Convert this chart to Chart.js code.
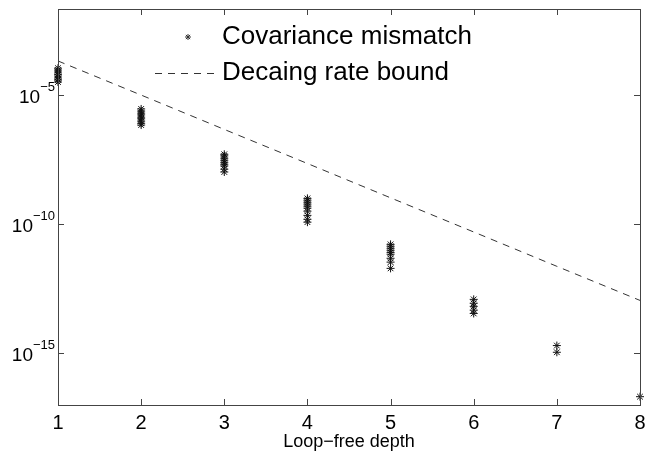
<!DOCTYPE html>
<html>
<head>
<meta charset="utf-8">
<script src="https://cdn.jsdelivr.net/npm/chart.js@4/dist/chart.umd.min.js"></script>
<style>
  html, body { margin: 0; padding: 0; background: #fff; }
  #wrap { width: 654px; height: 453px; }
</style>
</head>
<body>
<div id="wrap"><canvas id="chart" width="654" height="453"></canvas></div>
<script>
// depth on the x axis
const depthTicks = [1, 2, 3, 4, 5, 6, 7, 8];
// exponents shown on the y axis (10^e)
const yTickExponents = [-15, -10, -5];

// Covariance mismatch samples, paired: depth / value
const mismatchDepth = [
    1, 1, 1, 1, 1, 1, 1, 1, 1,
    2, 2, 2, 2, 2, 2, 2, 2, 2,
    3, 3, 3, 3, 3, 3, 3, 3, 3,
    4, 4, 4, 4, 4, 4, 4, 4, 4, 4,
    5, 5, 5, 5, 5, 5, 5, 5, 5,
    6, 6, 6, 6, 6,
    7, 7,
    8
];
const mismatchValue = [
    1.1e-4, 9.3e-5, 7.8e-5, 6.5e-5, 6.0e-5, 5.0e-5, 4.2e-5, 3.8e-5, 3.2e-5,
    2.9e-6, 2.4e-6, 2.0e-6, 1.7e-6, 1.4e-6, 1.2e-6, 9.8e-7, 8.1e-7, 6.9e-7,
    5.1e-8, 4.4e-8, 3.6e-8, 3.0e-8, 2.5e-8, 2.1e-8, 1.8e-8, 1.35e-8, 1.05e-8,
    1.0e-9, 8.5e-10, 7.1e-10, 6.0e-10, 5.0e-10, 4.2e-10, 3.2e-10, 2.2e-10, 1.55e-10, 1.2e-10,
    1.66e-11, 1.4e-11, 1.17e-11, 9.8e-12, 8.1e-12, 6.9e-12, 4.8e-12, 3.4e-12, 1.95e-12,
    1.23e-13, 8.7e-14, 6.6e-14, 4.7e-14, 3.5e-14,
    2.0e-15, 1.1e-15,
    2.1e-17
];

// Decaying rate bound, one value per depth
const boundValue = [2.09e-4, 1.0e-5, 4.68e-7, 2.24e-8, 1.05e-9, 5.0e-11, 2.34e-12, 1.12e-13];

const seriesLabels = ['Covariance mismatch', 'Decaing rate bound'];
const xTitle = 'Loop\u2212free depth';

const FONT = '"Liberation Sans", Arial, sans-serif';
const AXIS_COLOR = '#444';

// frame, inward ticks, superscript y labels and the in-plot legend
const matlabAxes = {
    id: 'matlabAxes',
    afterDraw(chart) {
        const ctx = chart.ctx;
        const a = chart.chartArea;
        const xs = chart.scales.x, ys = chart.scales.y;
        ctx.save();
        ctx.strokeStyle = AXIS_COLOR;
        ctx.lineWidth = 1;
        ctx.strokeRect(Math.round(a.left) + 0.5, Math.round(a.top) + 0.5,
                       Math.round(a.right - a.left), Math.round(a.bottom - a.top));
        ctx.beginPath();
        depthTicks.forEach(d => {
            const px = Math.round(xs.getPixelForValue(d)) + 0.5;
            ctx.moveTo(px, a.bottom); ctx.lineTo(px, a.bottom - 6);
            ctx.moveTo(px, a.top); ctx.lineTo(px, a.top + 6);
        });
        yTickExponents.forEach(e => {
            const py = Math.round(ys.getPixelForValue(Math.pow(10, e))) + 0.5;
            ctx.moveTo(a.left, py); ctx.lineTo(a.left + 6, py);
            ctx.moveTo(a.right, py); ctx.lineTo(a.right - 6, py);
        });
        ctx.stroke();

        // y labels: "10" with a raised exponent
        ctx.fillStyle = '#000';
        ctx.textBaseline = 'alphabetic';
        ctx.textAlign = 'left';
        yTickExponents.forEach(e => {
            const py = ys.getPixelForValue(Math.pow(10, e));
            const exp = '\u2212' + Math.abs(e);
            ctx.font = '13px ' + FONT;
            const ew = ctx.measureText(exp).width;
            ctx.font = '19px ' + FONT;
            const bw = ctx.measureText('10').width;
            const right = a.left - 3;
            ctx.fillText('10', right - ew - bw, py + 8);
            ctx.font = '13px ' + FONT;
            ctx.fillText(exp, right - ew, py - 4);
        });

        // legend
        const ds0 = chart.data.datasets[0], ds1 = chart.data.datasets[1];
        ctx.strokeStyle = '#333';
        Chart.helpers.drawPoint(ctx, {
            pointStyle: 'star', radius: 3, borderWidth: 1
        }, 188, 37);
        ctx.strokeStyle = ds1.borderColor;
        ctx.setLineDash(ds1.borderDash);
        ctx.beginPath();
        ctx.moveTo(155, 73.5); ctx.lineTo(214, 73.5);
        ctx.stroke();
        ctx.setLineDash([]);
        ctx.fillStyle = '#000';
        ctx.font = '26px ' + FONT;
        ctx.textBaseline = 'middle';
        ctx.fillText(ds0.label, 222, 37);
        ctx.fillText(ds1.label, 222, 73);
        ctx.restore();
    }
};

const ctx = document.getElementById('chart').getContext('2d');
new Chart(ctx, {
    type: 'scatter',
    data: {
        datasets: [{
            label: seriesLabels[0],
            data: mismatchDepth.map((d, i) => ({x: d, y: mismatchValue[i]})),
            pointStyle: 'star',
            pointRadius: 4,
            borderColor: '#111',
            backgroundColor: '#111',
            borderWidth: 1,
            clip: false
        }, {
            label: seriesLabels[1],
            type: 'line',
            data: depthTicks.map((d, i) => ({x: d, y: boundValue[i]})),
            borderColor: '#333',
            borderWidth: 1,
            borderDash: [7, 6],
            pointRadius: 0,
            fill: false
        }]
    },
    options: {
        responsive: false,
        animation: false,
        events: [],
        layout: { padding: { top: 9, right: 14, left: 0, bottom: 0 } },
        plugins: {
            legend: { display: false },
            tooltip: { enabled: false }
        },
        scales: {
            x: {
                type: 'linear',
                min: 1,
                max: 8,
                afterBuildTicks: s => { s.ticks = depthTicks.map(v => ({value: v})); },
                grid: { display: false, drawTicks: false },
                border: { display: false },
                ticks: { color: '#000', font: { family: FONT, size: 20 }, padding: 6, maxRotation: 0 },
                title: { display: true, text: xTitle, color: '#000', font: { family: FONT, size: 18 }, padding: { top: 0, bottom: 0 } },
                afterFit: s => { s.height = 48; s.paddingLeft = 0; s.paddingRight = 0; }
            },
            y: {
                type: 'logarithmic',
                min: 1e-17,
                max: 2.15e-2,
                afterBuildTicks: s => { s.ticks = yTickExponents.map(e => ({value: Math.pow(10, e)})); },
                grid: { display: false, drawTicks: false },
                border: { display: false },
                ticks: { display: false },
                afterFit: s => { s.width = 58; s.paddingTop = 0; s.paddingBottom = 0; }
            }
        }
    },
    plugins: [matlabAxes]
});
</script>
</body>
</html>
